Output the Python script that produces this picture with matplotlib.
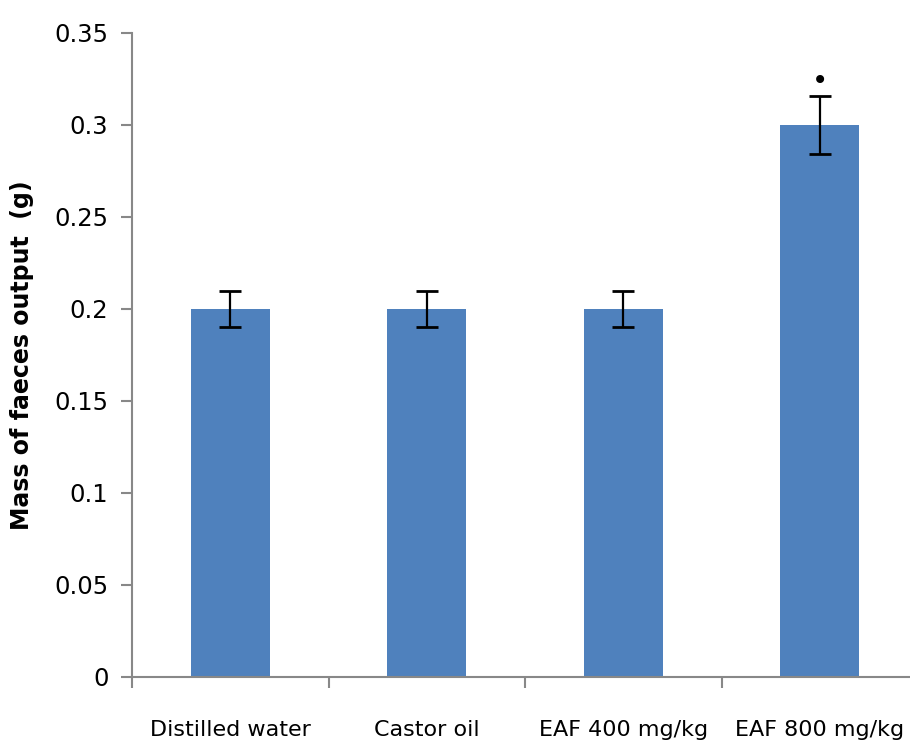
import numpy as np
import matplotlib
matplotlib.use('Agg')
import matplotlib.pyplot as plt
from matplotlib import ticker

# Data
groups = ['Distilled water', 'Castor oil', 'EAF 400 mg/kg', 'EAF 800 mg/kg']
mass = [0.2, 0.2, 0.2, 0.3]
err = [0.01, 0.01, 0.01, 0.016]
marks = ['', '', '', '•']

plt.rcParams['font.family'] = ['DejaVu Sans']

fig = plt.figure(figsize=(9.1, 7.49), dpi=100)
ax = fig.add_axes([132/910, 1 - 677/749, 786/910, (677 - 33)/749])

x = np.arange(len(groups))
ax.bar(x, mass, width=0.4, color='#4F81BD', zorder=2)
ax.errorbar(x, mass, yerr=err, fmt='none', ecolor='black', elinewidth=1.6,
            capsize=8, capthick=2, zorder=3)

# significance mark above the last bar
for xi, m, e, s in zip(x, mass, err, marks):
    if s:
        ax.text(xi, m + e + 0.008, s, ha='center', va='center', fontsize=20,
                color='black')

ax.set_xlim(-0.5, 3.5)
ax.set_ylim(0, 0.35)
ax.yaxis.set_major_locator(ticker.MultipleLocator(0.05))
ax.yaxis.set_major_formatter(ticker.FuncFormatter(
    lambda v, p: f'{v:.2f}'.rstrip('0').rstrip('.') if v else '0'))
ax.set_xticks(x)
ax.set_xticklabels(groups, fontsize=16)
ax.xaxis.set_minor_locator(ticker.FixedLocator([-0.5, 0.5, 1.5, 2.5, 3.5]))
ax.tick_params(axis='x', which='major', length=0, pad=31)
ax.tick_params(axis='x', which='minor', length=8, width=1.5, color='#888888', direction='out')
ax.tick_params(axis='y', length=8, width=1.5, color='#888888', labelsize=17.5, pad=9)

for side in ['top', 'right']:
    ax.spines[side].set_visible(False)
for side in ['left', 'bottom']:
    ax.spines[side].set_color('#888888')
    ax.spines[side].set_linewidth(1.5)

fig.text(22/910, 1 - 355/749, 'Mass of faeces output  (g)', rotation=90,
         ha='center', va='center', fontsize=17, fontweight='bold')

fig.savefig('out.png', dpi=100)
